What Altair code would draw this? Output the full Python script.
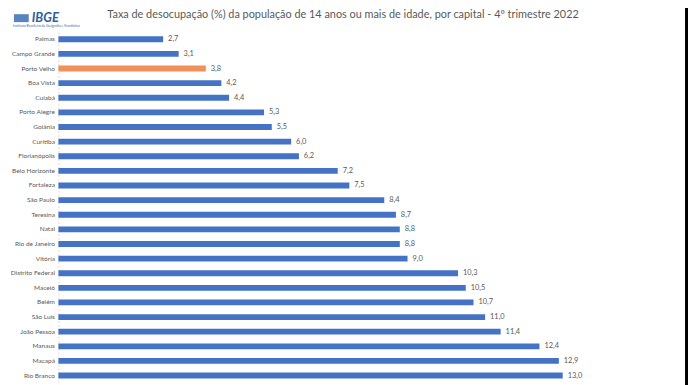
import altair as alt
import pandas as pd

titulo = "Taxa de desocupação (%) da população de 14 anos ou mais de idade, por capital - 4º trimestre 2022"
capitais = ["Palmas", "Campo Grande", "Porto Velho", "Boa Vista", "Cuiabá", "Porto Alegre",
            "Goiânia", "Curitiba", "Florianópolis", "Belo Horizonte", "Fortaleza", "São Paulo",
            "Teresina", "Natal", "Rio de Janeiro", "Vitória", "Distrito Federal", "Maceió",
            "Belém", "São Luís", "João Pessoa", "Manaus", "Macapá", "Rio Branco"]
taxas = [2.7, 3.1, 3.8, 4.2, 4.4, 5.3, 5.5, 6.0, 6.2, 7.2, 7.5, 8.4,
         8.7, 8.8, 8.8, 9.0, 10.3, 10.5, 10.7, 11.0, 11.4, 12.4, 12.9, 13.0]
destaque = "Porto Velho"
logo = "IBGE"
logo_sub = "Instituto Brasileiro de Geografia e Estatística"

AZUL = "#4472C4"
LARANJA = "#F0905A"
CINZA = "#595959"
FONTE = "Lato"

df = pd.DataFrame({
    "capital": capitais,
    "taxa": taxas,
    "rotulo": [f"{v:.1f}".replace(".", ",") for v in taxas],
})

x = alt.X("taxa:Q", scale=alt.Scale(domain=[0, 16], nice=False), axis=None)
y = alt.Y("capital:N", sort=capitais,
          scale=alt.Scale(paddingInner=0.6, paddingOuter=0.3),
          axis=alt.Axis(title=None, ticks=False, labelPadding=4, labelFontSize=6.6,
                        labelColor=CINZA, labelFont=FONTE, labelFontWeight="normal", grid=False,
                        domainColor="#e6d6c6", domainDash=[2, 2], domainWidth=1))

base = alt.Chart(df)
barras = base.mark_bar().encode(
    x=x, y=y,
    color=alt.condition(alt.datum.capital == destaque, alt.value(LARANJA), alt.value(AZUL)),
)
valores = base.mark_text(align="left", baseline="middle", dx=5, fontSize=7.5,
                         color=CINZA, font=FONTE).encode(x=x, y=y, text="rotulo:N")

tit = alt.Chart(pd.DataFrame({"t": [titulo]})).mark_text(
    align="center", baseline="middle", fontSize=11, font=FONTE, color=CINZA
).encode(x=alt.value(288), y=alt.value(-17), text="t:N")

logo_txt = alt.Chart(pd.DataFrame({"t": [logo]})).mark_text(
    align="left", baseline="middle", fontSize=13, font=FONTE, fontStyle="italic",
    fontWeight="bold", color="#2F5E9E"
).encode(x=alt.value(-27), y=alt.value(-14), text="t:N")

logo_icon = alt.Chart(pd.DataFrame({"t": [logo]})).mark_rect(
    color="#3A6DB5", opacity=0.85
).encode(x=alt.value(-45), x2=alt.value(-30), y=alt.value(-18), y2=alt.value(-10))

logo_sub_txt = alt.Chart(pd.DataFrame({"t": [logo_sub]})).mark_text(
    align="left", baseline="middle", fontSize=3.5, font=FONTE, color="#3A6DB5"
).encode(x=alt.value(-46), y=alt.value(-6), text="t:N")

borda = alt.Chart(pd.DataFrame({"t": [0]})).mark_rule(color="black", strokeWidth=3).encode(
    x=alt.value(635.5), y=alt.value(-30), y2=alt.value(360)
)

chart = alt.layer(barras, valores, tit, logo_icon, logo_txt, logo_sub_txt, borda).properties(
    width=628, height=355,
    autosize=alt.AutoSizeParams(type="none"),
    padding={"left": 51, "top": 22, "right": 9, "bottom": 8},
    background="white",
).configure_view(stroke=None)

chart.save("out.html", embed_options={"renderer": "svg", "actions": False})
